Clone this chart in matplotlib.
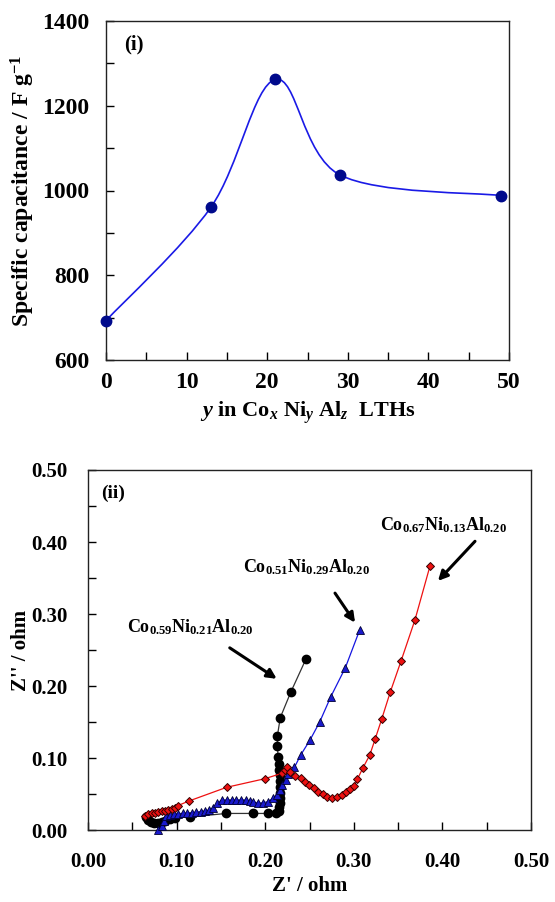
import matplotlib
matplotlib.use("Agg")
import matplotlib.pyplot as plt
from matplotlib.path import Path
from matplotlib.patches import PathPatch
from matplotlib.ticker import MultipleLocator, FormatStrFormatter

plt.rcParams['font.family'] = ['Liberation Serif', 'DejaVu Serif']
plt.rcParams['font.weight'] = 'bold'
plt.rcParams['mathtext.fontset'] = 'custom'
plt.rcParams['mathtext.rm'] = 'Liberation Serif:bold'
plt.rcParams['mathtext.it'] = 'Liberation Serif:bold:italic'
plt.rcParams['mathtext.bf'] = 'Liberation Serif:bold'

# ---- Panel (i) data ----
y_content = [0, 13, 21, 29, 49]
capacitance = [693, 960, 1262, 1037, 988]

# ---- Panel (ii) data ----
black_zr = [0.065, 0.068, 0.071, 0.075, 0.079, 0.083, 0.087, 0.092, 0.098, 0.115, 0.156, 0.1866,
            0.2035, 0.212, 0.2155, 0.216, 0.2165, 0.2168, 0.217, 0.217, 0.2168, 0.2165, 0.2158,
            0.2152, 0.2145, 0.2138, 0.2138, 0.217, 0.2287, 0.246]
black_zi = [0.018, 0.014, 0.011, 0.010, 0.010, 0.011, 0.013, 0.015, 0.017, 0.018, 0.023, 0.023,
            0.023, 0.024, 0.027, 0.032, 0.038, 0.045, 0.052, 0.060, 0.068, 0.076, 0.084,
            0.092, 0.102, 0.116, 0.131, 0.156, 0.191, 0.2375]

blue_zr = [0.0794, 0.0832, 0.086, 0.088, 0.0925, 0.097, 0.102, 0.1069, 0.112, 0.117, 0.122, 0.127,
           0.132, 0.137, 0.1415, 0.146, 0.1509, 0.1565, 0.162, 0.167, 0.1725, 0.178, 0.1828,
           0.1866, 0.1922, 0.1979, 0.2035, 0.2084, 0.2134, 0.2165, 0.2195, 0.224, 0.226, 0.226,
           0.233, 0.240, 0.2506, 0.2615, 0.274, 0.2905, 0.3067]
blue_zi = [0.0, 0.005, 0.012, 0.0199, 0.021, 0.0218, 0.0225, 0.0232, 0.0236, 0.024, 0.0248, 0.0255,
           0.0265, 0.0278, 0.031, 0.037, 0.0417, 0.0417, 0.0417, 0.0417, 0.0417, 0.0417, 0.0405,
           0.0394, 0.037, 0.038, 0.0394, 0.044, 0.0486, 0.055, 0.062, 0.069, 0.078, 0.0856,
           0.087, 0.104, 0.125, 0.150, 0.185, 0.2255, 0.278]

red_zr = [0.0643, 0.068, 0.0719, 0.0756, 0.0794, 0.0832, 0.0869, 0.0906, 0.0945, 0.0982, 0.1012,
          0.114, 0.1565, 0.1998, 0.2186, 0.2225, 0.225, 0.228, 0.234, 0.240, 0.245, 0.2498,
          0.2551, 0.260, 0.2649, 0.2701, 0.2757, 0.2814, 0.2863, 0.2912, 0.2957, 0.3006, 0.304,
          0.310, 0.318, 0.324, 0.3315, 0.341, 0.3534, 0.369, 0.386]
red_zi = [0.0199, 0.0218, 0.0232, 0.024, 0.025, 0.026, 0.0268, 0.0278, 0.029, 0.031, 0.0338,
          0.0403, 0.0593, 0.0713, 0.0787, 0.083, 0.087, 0.081, 0.075, 0.0718, 0.067, 0.0625,
          0.058, 0.053, 0.0496, 0.0463, 0.0449, 0.0463, 0.0486, 0.0523, 0.0565, 0.0616, 0.0704,
          0.0856, 0.104, 0.126, 0.154, 0.191, 0.235, 0.2917, 0.3667]

sample_labels = [r'Co$_{0.59}$Ni$_{0.21}$Al$_{0.20}$',
                 r'Co$_{0.51}$Ni$_{0.29}$Al$_{0.20}$',
                 r'Co$_{0.67}$Ni$_{0.13}$Al$_{0.20}$']

fig = plt.figure(figsize=(5.55, 9.02), dpi=100)

# ================= Panel (i) =================
ax1 = fig.add_axes([106/555, 1-360/902, 403/555, 339/902])

# Excel-style smoothed line built as a Bezier path from the data
verts = [(y_content[0], capacitance[0])]
codes = [Path.MOVETO]
n = len(y_content)
for i in range(n - 1):
    p0 = (y_content[max(i-1, 0)], capacitance[max(i-1, 0)])
    p1 = (y_content[i], capacitance[i])
    p2 = (y_content[i+1], capacitance[i+1])
    p3 = (y_content[min(i+2, n-1)], capacitance[min(i+2, n-1)])
    c1 = (p1[0] + (p2[0]-p0[0])/6, p1[1] + (p2[1]-p0[1])/6)
    c2 = (p2[0] - (p3[0]-p1[0])/6, p2[1] - (p3[1]-p1[1])/6)
    verts += [c1, c2, p2]
    codes += [Path.CURVE4]*3
ax1.add_patch(PathPatch(Path(verts, codes), facecolor='none', edgecolor='#1a1ae6', lw=1.2, zorder=2))
ax1.plot(y_content, capacitance, linestyle='none', marker='o', ms=7.5,
         color='#000a8c', zorder=3, clip_on=False)

ax1.set_xlim(0, 50)
ax1.set_ylim(600, 1400)
ax1.xaxis.set_major_locator(MultipleLocator(10))
ax1.xaxis.set_minor_locator(MultipleLocator(5))
ax1.yaxis.set_major_locator(MultipleLocator(200))
ax1.yaxis.set_minor_locator(MultipleLocator(100))
ax1.tick_params(which='both', direction='in', length=6, width=1, labelsize=17,
                top=False, right=False)
ax1.tick_params(axis='y', pad=12)
ax1.tick_params(axis='x', pad=9)
for lab in ax1.get_xticklabels() + ax1.get_yticklabels():
    lab.set_fontweight('bold')
for s in ax1.spines.values():
    s.set_linewidth(1.0)
    s.set_color('#222222')
ax1.set_xlabel(r'$\mathit{y}$ in Co$_{\mathit{x}}$ Ni$_{\mathit{y}}$ Al$_{\mathit{z}}$  LTHs',
               fontsize=16, fontweight='bold', labelpad=4)
ax1.set_ylabel(r'Specific capacitance / F g$^{\mathregular{-1}}$', fontsize=17,
               fontweight='bold', labelpad=4)
ax1.text(0.045, 0.93, '(i)', transform=ax1.transAxes, fontsize=15, fontweight='bold',
         ha='left', va='center')

# ================= Panel (ii) =================
ax2 = fig.add_axes([88/555, 1-830/902, 443/555, 360/902])
ax2.plot(black_zr, black_zi, color='#333333', lw=0.9, marker='o', ms=6,
         mfc='black', mec='black', zorder=3, clip_on=False)
ax2.plot(blue_zr, blue_zi, color='#1515e0', lw=0.9, marker='^', ms=5.5,
         mfc='#1a1acc', mec='#000033', mew=0.6, zorder=4, clip_on=False)
ax2.plot(red_zr, red_zi, color='#ee1111', lw=0.9, marker='D', ms=4.5,
         mfc='#ee1111', mec='#330000', mew=0.7, zorder=5, clip_on=False)

ax2.set_xlim(0, 0.5)
ax2.set_ylim(0, 0.5)
ax2.xaxis.set_major_locator(MultipleLocator(0.1))
ax2.xaxis.set_minor_locator(MultipleLocator(0.05))
ax2.yaxis.set_major_locator(MultipleLocator(0.1))
ax2.yaxis.set_minor_locator(MultipleLocator(0.05))
ax2.xaxis.set_major_formatter(FormatStrFormatter('%.2f'))
ax2.yaxis.set_major_formatter(FormatStrFormatter('%.2f'))
ax2.tick_params(which='both', direction='in', length=6, width=1, labelsize=15,
                top=False, right=False)
ax2.tick_params(axis='x', pad=16)
ax2.tick_params(axis='y', pad=15)
for lab in ax2.get_xticklabels() + ax2.get_yticklabels():
    lab.set_fontweight('bold')
for s in ax2.spines.values():
    s.set_linewidth(1.0)
    s.set_color('#222222')
ax2.set_xlabel("Z' / ohm", fontsize=15, fontweight='bold', labelpad=3)
ax2.set_ylabel("Z'' / ohm", fontsize=15, fontweight='bold', labelpad=0)
ax2.text(0.03, 0.935, '(ii)', transform=ax2.transAxes, fontsize=14, fontweight='bold',
         ha='left', va='center')

label_pos = [(0.1157, 0.282), (0.2466, 0.365), (0.4018, 0.4236)]
arrows = [((0.160, 0.253), (0.213, 0.210)),
          ((0.2788, 0.329), (0.3014, 0.288)),
          ((0.4368, 0.401), (0.395, 0.346))]
for lab, (lx, ly), (tail, head) in zip(sample_labels, label_pos, arrows):
    ax2.text(lx, ly, lab, fontsize=13, fontweight='bold', ha='center', va='center')
    ax2.annotate('', xy=head, xytext=tail,
                 arrowprops=dict(arrowstyle='-|>', color='black', lw=2.2,
                                 mutation_scale=14, shrinkA=0, shrinkB=0))

fig.savefig('out.png', dpi=100)
